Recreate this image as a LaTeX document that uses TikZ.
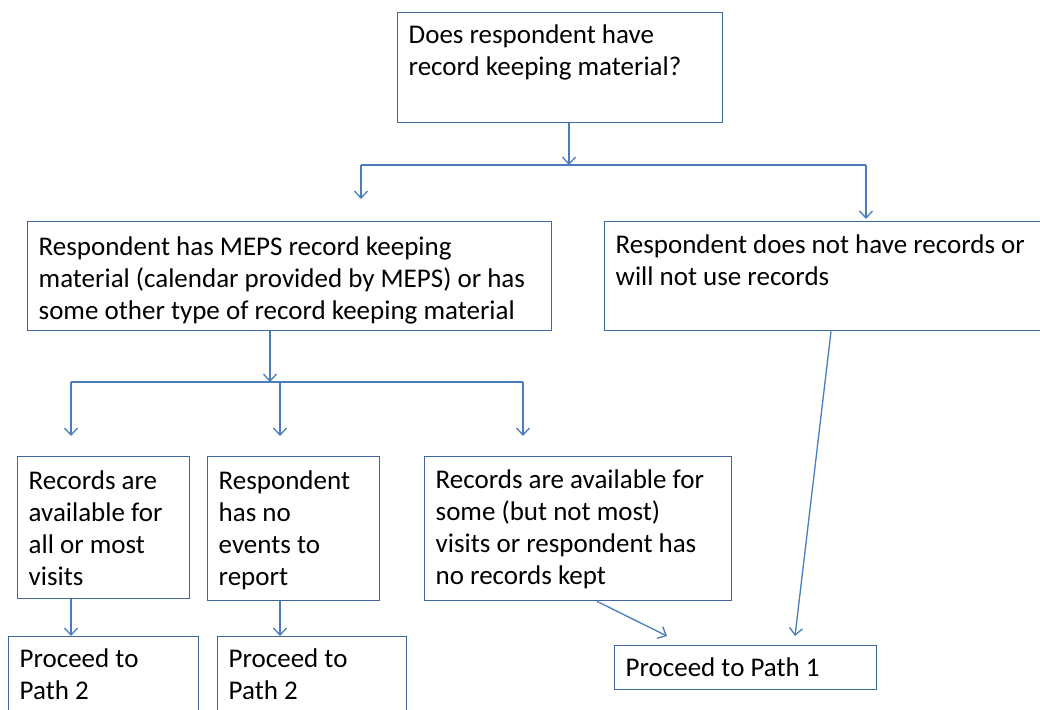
\documentclass[tikz,border=0pt]{standalone}
\usepackage{fontspec}
\setmainfont{Carlito}
\usetikzlibrary{arrows.meta,calc}
\definecolor{boxc}{RGB}{65,104,156}
\definecolor{linec}{RGB}{74,126,187}
\newcommand{\bxt}[4]{\parbox[c][#2][t]{#1}{\raggedright\rule{0pt}{#3}#4}}
\begin{document}
\begin{tikzpicture}[x=1pt,y=-1pt,
  box/.style={draw=boxc, line width=1.4pt, anchor=north west, inner xsep=11pt, inner ysep=0pt, font=\fontsize{27}{32}\selectfont},
  conn/.style={draw=linec, line width=1.3pt},
  arr/.style={conn, -{Straight Barb[length=7pt,width=13pt,line width=1.3pt]}}]
\useasboundingbox (0,0) rectangle (1040,709);
% boxes
\node[box] (top) at (397,12) {\bxt{303pt}{110pt}{31pt}{Does respondent have\\record keeping material?}};
\node[box] (ml) at (27,221) {\bxt{502pt}{109pt}{34pt}{Respondent has MEPS record keeping\\material (calendar provided by MEPS) or has\\some other type of record keeping material}};
\node[box] (mr) at (604,221) {\bxt{423pt}{109pt}{31.5pt}{Respondent does not have records or\\will not use records}};
\node[box] (ra) at (17,456) {\bxt{150pt}{142pt}{33pt}{Records are\\available for\\all or most\\visits}};
\node[box] (rb) at (207,456) {\bxt{150pt}{144pt}{33pt}{Respondent\\has no\\events to\\report}};
\node[box] (rc) at (424,456) {\bxt{285pt}{144pt}{32pt}{Records are available for\\some (but not most)\\visits or respondent has\\no records kept}};
\node[box] (pd) at (8,636) {\bxt{168pt}{95pt}{31pt}{Proceed to\\Path 2}};
\node[box] (pe) at (217,636) {\bxt{167pt}{95pt}{31pt}{Proceed to\\Path 2}};
\node[box] (pf) at (614,645) {\bxt{240pt}{44pt}{31pt}{Proceed to Path 1}};
% junction coordinates
\coordinate (j1) at (569,165);
\coordinate (j1l) at (361,165);
\coordinate (j1r) at (866,165);
\coordinate (t1l) at (361,199);
\coordinate (t1r) at (866,219);
\coordinate (j2) at (270,382);
\coordinate (j2l) at (71,382);
\coordinate (j2m) at (280,382);
\coordinate (j2r) at (523,382);
\coordinate (t2l) at (71,436);
\coordinate (t2m) at (280,436);
\coordinate (t2r) at (523,436);
\coordinate (tf1) at (667,636);
\coordinate (tf2) at (795,636);
% connectors
\draw[arr] (top.south -| j1) -- (j1);
\draw[conn] (j1l) -- (j1r);
\draw[arr] (j1l) -- (t1l);
\draw[arr] (j1r) -- (t1r);
\draw[arr] (ml.south -| j2) -- (j2);
\draw[conn] (j2l) -- (j2r);
\draw[arr] (j2l) -- (t2l);
\draw[arr] (j2m) -- (t2m);
\draw[arr] (j2r) -- (t2r);
\draw[arr] (ra.south -| t2l) -- (pd.north -| t2l);
\draw[arr] (rb.south -| t2m) -- (pe.north -| t2m);
\draw[arr] ([xshift=173pt]rc.south west) -- (tf1);
\draw[arr] ([xshift=227pt]mr.south west) -- (tf2);
\end{tikzpicture}
\end{document}
